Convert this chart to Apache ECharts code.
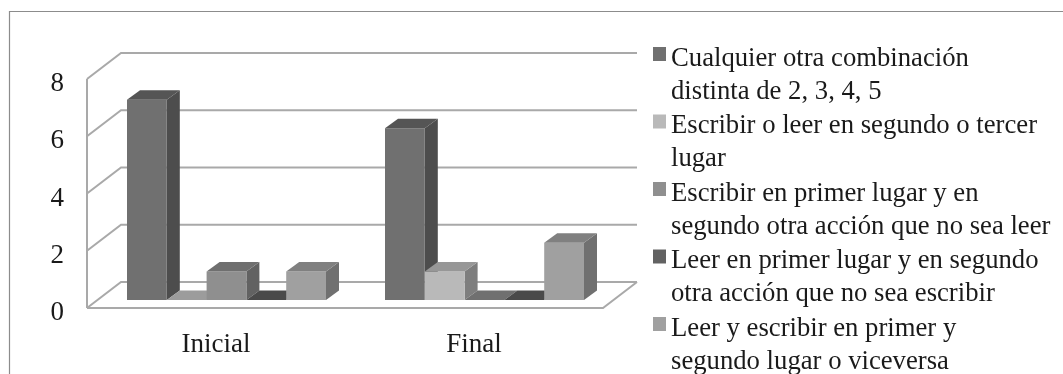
<!DOCTYPE html>
<html><head><meta charset="utf-8">
<style>html,body{margin:0;padding:0;background:#fff}#c{width:1063px;height:374px}</style>
<script src="https://cdn.jsdelivr.net/npm/echarts@6/dist/echarts.min.js"></script>
</head><body><div id="c"></div>
<script>
const categories = ['Inicial', 'Final'];
const seriesNames = [
  'Cualquier otra combinación\ndistinta de 2, 3, 4, 5',
  'Escribir o leer en segundo o tercer\nlugar',
  'Escribir en primer lugar y en\nsegundo otra acción que no sea leer',
  'Leer en primer lugar y en segundo\notra acción que no sea escribir',
  'Leer y escribir en primer y\nsegundo lugar o viceversa'
];
const valuesCualquier = [7, 6];
const valuesEscribirLeer = [0, 1];
const valuesEscribirPrimero = [1, 0];
const valuesLeerPrimero = [0, 0];
const valuesLeerEscribir = [1, 2];
const seriesValues = [valuesCualquier, valuesEscribirLeer, valuesEscribirPrimero, valuesLeerPrimero, valuesLeerEscribir];
const yTicks = [0, 2, 4, 6, 8];
const frontColors = ['#707070', '#b9b9b9', '#8f8f8f', '#626262', '#a0a0a0'];
const sideColors  = ['#4d4d4d', '#7e7e7e', '#626262', '#454545', '#707070'];
const topColors   = ['#555555', '#979797', '#6f6f6f', '#4a4a4a', '#808080'];

const wallDx = 34, wallDy = -26;
const barPlaneDx = 10.5, barPlaneDy = -8;
const barDepthDx = 13, barDepthDy = -9.5;
const barFrac = 39.8 / 258;
const wallColor = '#a9a9a9';

function poly(points, fill) {
  return { type: 'polygon', shape: { points }, style: { fill, stroke: null } };
}
function renderBar(si) {
  return function (params, api) {
    const cat = api.value(0), val = api.value(1);
    const c = api.coord([cat, val]), c0 = api.coord([cat, 0]);
    const band = api.size([1, 0])[0];
    const w = band * barFrac;
    const x0 = c[0] + barPlaneDx + (si - 2.5) * w;
    const x1 = x0 + w;
    const yT = c[1] + barPlaneDy, yB = c0[1] + barPlaneDy;
    const d = barDepthDx, e = barDepthDy;
    const children = [];
    if (val > 0) {
      children.push(poly([[x1, yT], [x1 + d, yT + e], [x1 + d, yB + e], [x1, yB]], sideColors[si]));
      children.push(poly([[x0, yT], [x1, yT], [x1, yB], [x0, yB]], frontColors[si]));
    }
    children.push(poly([[x0, yT], [x0 + d, yT + e], [x1 + d, yT + e], [x1, yT]], val > 0 ? topColors[si] : (si === 3 ? topColors[si] : (cat === 0 ? '#9c9c9c' : '#707070'))));
    return { type: 'group', children };
  };
}
function renderWall(params, api) {
  const v = api.value(0);
  const p = api.coord([0, v]);
  const sz = api.size([1, 0])[0];
  const xL = p[0] - sz / 2, y = p[1], xR = xL + sz * categories.length;
  const style = { stroke: wallColor, lineWidth: 2, fill: null };
  const children = [{ type: 'polyline', shape: { points: [[xL, y], [xL + wallDx, y + wallDy], [xR + wallDx, y + wallDy]] }, style }];
  if (v === yTicks[0]) {
    children.push({ type: 'polyline', shape: { points: [[xL, y], [xR, y], [xR + wallDx, y + wallDy]] }, style });
    const top = api.coord([0, yTicks[yTicks.length - 1]])[1];
    children.push({ type: 'line', shape: { x1: xL, y1: y, x2: xL, y2: top }, style });
  }
  return { type: 'group', children };
}

const chart = echarts.init(document.getElementById('c'), null, { renderer: 'canvas' });
const fontFamily = '"Liberation Serif", "Times New Roman", serif';
chart.setOption({
  animation: false,
  backgroundColor: '#fff',
  textStyle: { fontFamily },
  grid: { left: 87, right: 460, top: 79, bottom: 66, containLabel: false },
  xAxis: {
    type: 'category', data: categories,
    axisLine: { show: false }, axisTick: { show: false }, splitLine: { show: false },
    axisLabel: { fontFamily, fontSize: 27, color: '#1a1a1a', margin: 23 }
  },
  yAxis: {
    type: 'value', min: 0, max: 8, interval: 2,
    axisLine: { show: false }, axisTick: { show: false }, splitLine: { show: false },
    axisLabel: { fontFamily, fontSize: 27, color: '#1a1a1a', margin: 23, verticalAlign: 'top', lineHeight: 10 }
  },
  legend: {
    orient: 'vertical', left: 648, top: 37, height: 500, itemGap: 1.5,
    itemWidth: 13, itemHeight: 66, symbolKeepAspect: false,
    icon: 'path://M0 5H1V19H0Z M0 0L0 0 M0 66L0 66',
    itemStyle: { borderWidth: 0 },
    textStyle: { fontFamily, fontSize: 26.7, lineHeight: 33, color: '#1a1a1a' },
    data: seriesNames
  },
  graphic: [{
    type: 'polyline', silent: true, z: 0,
    shape: { points: [[9.5, 374], [9.5, 11.5], [1063, 11.5]] },
    style: { stroke: '#8c8c8c', lineWidth: 1.2, fill: null }
  }],
  series: [{
    type: 'custom', name: 'wall', z: 1, silent: true, coordinateSystem: 'cartesian2d',
    renderItem: renderWall, encode: { y: 0 }, data: yTicks.map(v => [v]),
    clip: false
  }].concat(seriesNames.map((name, si) => ({
    type: 'custom', name, z: 2 + si, coordinateSystem: 'cartesian2d',
    itemStyle: { color: frontColors[si] },
    renderItem: renderBar(si),
    encode: { x: 0, y: 1 },
    data: seriesValues[si].map((v, i) => [i, v]),
    clip: false
  })))
});
</script></body></html>
